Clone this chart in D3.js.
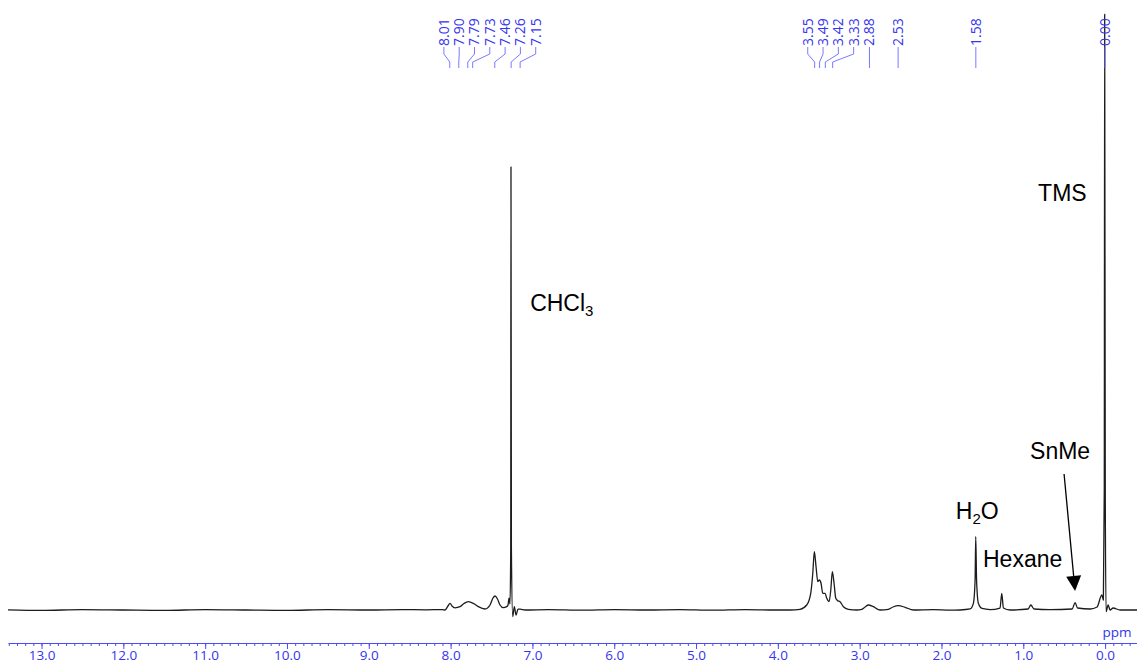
<!DOCTYPE html>
<html>
<head>
<meta charset="utf-8">
<script src="https://cdn.jsdelivr.net/npm/d3@7"></script>
<style>
  body { margin: 0; background: #fff; }
  svg { display: block; }
  .axis text { font-family: "Open Sans", sans-serif; font-size: 13.5px; fill: #3535ee; }
  .axis path, .axis line { stroke: #4b4bff; }
  .note { font-family: "Liberation Sans", Arial, sans-serif; font-size: 23px; fill: #000; }
</style>
</head>
<body>
<div id="chart"></div>
<script>
// spectrum: chemical shift (ppm) and intensity (CHCl3 = 100)
var shiftPpm = [
  13.41, 13.0, 12.5, 12.0, 11.5, 11.0, 10.5, 10.0, 9.5, 9.0, 8.6, 8.3, 8.1,
  8.068, 8.032, 8.007, 7.983, 7.946, 7.885, 7.836, 7.784, 7.723, 7.661, 7.579,
  7.518, 7.482, 7.457, 7.427, 7.396, 7.356, 7.314, 7.298, 7.286, 7.274,
  7.265, 7.262, 7.257, 7.241, 7.221, 7.200, 7.176, 7.152, 7.090,
  6.8, 6.4, 6.0, 5.6, 5.2, 4.8, 4.4, 4.1,
  3.851, 3.729, 3.647, 3.598, 3.573, 3.554, 3.533, 3.512, 3.493, 3.472, 3.451,
  3.423, 3.402, 3.374, 3.353, 3.334, 3.313, 3.292, 3.268, 3.240, 3.199, 3.138,
  3.035, 2.974, 2.934, 2.894, 2.833, 2.751, 2.649, 2.592, 2.527, 2.445, 2.343,
  2.1, 1.9,
  1.773, 1.650, 1.610, 1.589, 1.581, 1.571, 1.549, 1.504, 1.406,
  1.284, 1.263, 1.243, 1.161, 0.941, 0.908, 0.868, 0.672,
  0.403, 0.367, 0.336, 0.183, 0.098, 0.040, 0.021, 0.010, 0.005, -0.002,
  -0.012, -0.037, -0.061, -0.098, -0.183, -0.39
];
var intensity = [
  0.05, -0.1, 0.1, 0.0, -0.1, 0.1, 0.0, -0.1, 0.1, 0.0, 0.1, 0.05, 0.1,
  0, 0.9, 1.5, 0.9, 0.5, 0.75, 1.47, 1.87, 1.51, 0.75, 0.23,
  1.13, 2.71, 3.16, 2.48, 1.13, 0.52, 0.75, 1.13, 2.7, 1.35,
  14, 100, 14, -1.5, 0.75, -1.13, 0.2, 0.2, 0,
  0.1, -0.05, 0.1, 0, 0.1, -0.05, 0.1, 0,
  0, 0.16, 1.13, 3.77, 8.28, 13.16, 9.77, 6.39, 6.77, 6.03, 3.77,
  3.77, 2.64, 1.87, 4.51, 8.65, 6.03, 2.64, 2.10, 1.87, 0.75, 0.16,
  0, 0.16, 0.68, 1.13, 0.75, 0, 0.16, 0.68, 0.97, 0.61, 0,
  0.1, -0.05,
  0, 0.23, 1.51, 6.77, 16.55, 6.77, 1.51, 0.34, 0.1,
  0.45, 3.77, 0.45, 0, 0.23, 1.13, 0.23, 0.1,
  0.23, 1.65, 0.45, 0.23, 0.68, 3.39, 2.26, 27.1, 134.5, 27.1,
  -0.38, 1.13, 0, 0.45, 0, 0
];

// picked peaks (top labels)
var peakLabels = [8.01, 7.90, 7.79, 7.73, 7.46, 7.26, 7.15,
                  3.55, 3.49, 3.42, 3.33, 2.88, 2.53, 1.58, 0.00];

// axis ticks
var majorTicks = [13, 12, 11, 10, 9, 8, 7, 6, 5, 4, 3, 2, 1, 0];
var minorTicks = d3.range(-3, 135).map(function (i) { return i / 10; });

// assignments written on the plot
var notes = [
  { ppm: 7.26, text: "CHCl", sub: "3", after: "" },
  { ppm: 0.00, text: "TMS", sub: "", after: "" },
  { ppm: 1.58, text: "H", sub: "2", after: "O" },
  { ppm: 1.26, text: "Hexane", sub: "", after: "" },
  { ppm: 0.367, text: "SnMe", sub: "", after: "" }
];

var w = 1137, h = 664;

var svg = d3.select("#chart").append("svg")
    .attr("width", w)
    .attr("height", h);

var x = d3.scaleLinear().domain([13.41, -0.39]).range([8, 1137]);
var y = d3.scaleLinear().domain([0, 100]).range([610, 167]);

// axis
var axisY = 643;
svg.append("g")
    .attr("class", "axis")
    .attr("transform", "translate(0," + axisY + ")")
    .call(d3.axisBottom(x).tickValues(minorTicks).tickSize(3).tickSizeOuter(0).tickFormat(""));

svg.append("g")
    .attr("class", "axis")
    .attr("transform", "translate(0," + axisY + ")")
    .call(d3.axisBottom(x).tickValues(majorTicks).tickSize(6).tickPadding(1).tickSizeOuter(0).tickFormat(d3.format(".1f")))
    .call(function (g) { g.select(".domain").remove(); });

svg.append("text")
    .attr("x", 1117)
    .attr("y", 637)
    .attr("text-anchor", "middle")
    .style("font-family", "Open Sans, sans-serif")
    .style("font-size", "13.5px")
    .style("fill", "#3535ee")
    .text("ppm");

// spectrum
var pts = shiftPpm.map(function (p, i) { return [p, intensity[i]]; });
var line = d3.line()
    .x(function (d) { return x(d[0]); })
    .y(function (d) { return y(d[1]); })
    .curve(d3.curveMonotoneX);

svg.append("path")
    .datum(pts)
    .attr("d", line)
    .attr("fill", "none")
    .attr("stroke", "#1c1c1c")
    .attr("stroke-width", 1.3)
    .attr("stroke-linejoin", "round");

// peak labels, spread so they don't collide
function spreadLabels(xs, gap) {
    var groups = xs.map(function (v) { return { xs: [v] }; });
    function place(g) {
        var n = g.xs.length;
        var c = d3.mean(g.xs) + (n > 1 ? gap / 2 : 0);
        g.start = c - (n - 1) / 2 * gap;
        g.end = c + (n - 1) / 2 * gap;
    }
    groups.forEach(place);
    var merged = true;
    while (merged) {
        merged = false;
        for (var i = 0; i < groups.length - 1; i++) {
            if (groups[i + 1].start - groups[i].end < gap) {
                groups[i].xs = groups[i].xs.concat(groups[i + 1].xs);
                groups.splice(i + 1, 1);
                place(groups[i]);
                merged = true;
                break;
            }
        }
    }
    var out = [];
    groups.forEach(function (g) {
        g.xs.forEach(function (v, k) { out.push(g.start + k * gap); });
    });
    return out;
}

var peakX = peakLabels.map(function (p) { return x(p); });
var labelX = spreadLabels(peakX, 15.3);

var lab = svg.append("g");
peakLabels.forEach(function (p, i) {
    lab.append("path")
        .attr("d", "M" + labelX[i] + ",47 L" + labelX[i] + ",54 L" + peakX[i] + ",62 L" + peakX[i] + ",68")
        .attr("fill", "none")
        .attr("stroke", "#7a7aff")
        .attr("stroke-width", 1);
    lab.append("text")
        .attr("transform", "translate(" + labelX[i] + ",46) rotate(-90)")
        .attr("dy", "0.35em")
        .style("font-family", "Open Sans, sans-serif")
        .style("font-size", "14px")
        .style("fill", "#3535ee")
        .text(p.toFixed(2));
});

// annotations
var noteOffsets = [[19, 311], [-67, 201], [-20, 519], [-19, 567], [-45, 459]];
notes.forEach(function (n, i) {
    var t = svg.append("text")
        .attr("class", "note")
        .attr("x", x(n.ppm) + noteOffsets[i][0])
        .attr("y", noteOffsets[i][1]);
    t.append("tspan").text(n.text);
    if (n.sub) {
        t.append("tspan").attr("dy", 5).style("font-size", "15px").text(n.sub);
        if (n.after) t.append("tspan").attr("dy", -5).text(n.after);
    }
});

// arrow to the SnMe peak
var tipX = x(0.367), tipY = 591;
var startX = tipX - 11, startY = 474;
var ang = Math.atan2(tipY - startY, tipX - startX);
var headLen = 15, headHalf = 7.5;
var bx = tipX - headLen * Math.cos(ang), by = tipY - headLen * Math.sin(ang);
svg.append("line")
    .attr("x1", startX).attr("y1", startY)
    .attr("x2", bx).attr("y2", by)
    .attr("stroke", "#000")
    .attr("stroke-width", 1.3);
svg.append("path")
    .attr("d", "M" + tipX + "," + tipY +
        " L" + (bx + headHalf * Math.sin(ang)) + "," + (by - headHalf * Math.cos(ang)) +
        " L" + (bx - headHalf * Math.sin(ang)) + "," + (by + headHalf * Math.cos(ang)) + " Z")
    .attr("fill", "#000");
</script>
</body>
</html>
